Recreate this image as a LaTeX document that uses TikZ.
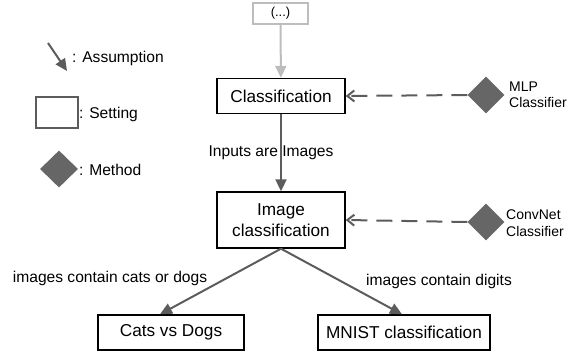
\documentclass[tikz,border=0pt]{standalone}
\usepackage{fontspec}
\setmainfont{Liberation Sans}
\usetikzlibrary{arrows.meta,shapes.geometric}
\definecolor{edgegray}{HTML}{5C5C5C}
\definecolor{methodgray}{HTML}{666666}
\definecolor{palegray}{HTML}{BDBDBD}
\newcommand{\boxfont}{\fontsize{17.2}{20.5}\selectfont}
\newcommand{\labfont}{\fontsize{15.6}{18}\selectfont}
\newcommand{\methfont}{\fontsize{14}{16.5}\selectfont}
\begin{document}
\begin{tikzpicture}[x=1pt,y=-1pt,
    setting/.style={draw=black, line width=1.4pt, fill=white, minimum height=35pt, inner sep=0pt, font=\boxfont, align=center},
    method/.style={diamond, fill=methodgray, minimum width=37pt, minimum height=37pt, inner sep=0pt},
    assume/.style={draw=edgegray, line width=2pt, -{Triangle[length=12pt,width=11pt]}},
    uses/.style={draw=edgegray, line width=2pt, dash pattern=on 16pt off 9pt, -{Straight Barb[length=7pt,width=11pt]}},
    lab/.style={font=\labfont, inner sep=0pt},
    mlab/.style={font=\methfont, inner sep=0pt, anchor=west, align=left}]
  \useasboundingbox (0,0) rectangle (574,353);

  % legend
  \coordinate (a0) at (48,43);
  \coordinate (a1) at (67,71);
  \draw[assume] (a0) -- (a1);
  \node[lab, anchor=west] (lassume) at (72,58) {: Assumption};
  \node[draw=edgegray, line width=1.4pt, minimum width=42pt, minimum height=31pt] (lset) at (57,112.5) {};
  \node[lab, anchor=west] (lsetting) at (79,114) {: Setting};
  \node[method, minimum width=38pt] (lmeth) at (59,169) {};
  \node[lab, anchor=west] (lmethod) at (79,170) {: Method};

  % settings
  \node[setting, draw=palegray, minimum width=55pt, minimum height=21pt, font=\fontsize{13}{15}\selectfont] (dots) at (280.5,13.5) {(...)};
  \node[setting, minimum width=128pt] (cls) at (281,96) {Classification};
  \node[setting, minimum width=128pt, minimum height=56pt] (imgcls) at (281,220) {Image\\classification};
  \node[setting, minimum width=146pt] (cats) at (171,332.5) {Cats vs Dogs};
  \node[setting, minimum width=172pt] (mnist) at (404,332.5) {MNIST classification};

  % methods
  \node[method] (mlp) at (486,95) {};
  \node[mlab] (mlptext) at (509,95) {MLP\\Classifier};
  \node[method] (convnet) at (486,222) {};
  \node[mlab] (convtext) at (506,223) {ConvNet\\Classifier};

  % assumptions
  \draw[assume, draw=palegray] (dots) -- (cls);
  \draw[assume] (cls) -- node[lab, xshift=-10pt] (linputs) {Inputs are Images} (imgcls);
  \draw[assume] (imgcls.south) -- ([xshift=-11pt]cats.north);
  \draw[assume] (imgcls.south) -- ([xshift=-2pt]mnist.north);
  \node[lab] (lcats) at (110,278) {images contain cats or dogs};
  \node[lab] (ldigits) at (439,281) {images contain digits};

  % methods used
  \draw[uses] (mlp.west) -- (cls.east);
  \draw[uses] (convnet.west) -- (imgcls.east);
\end{tikzpicture}
\end{document}
